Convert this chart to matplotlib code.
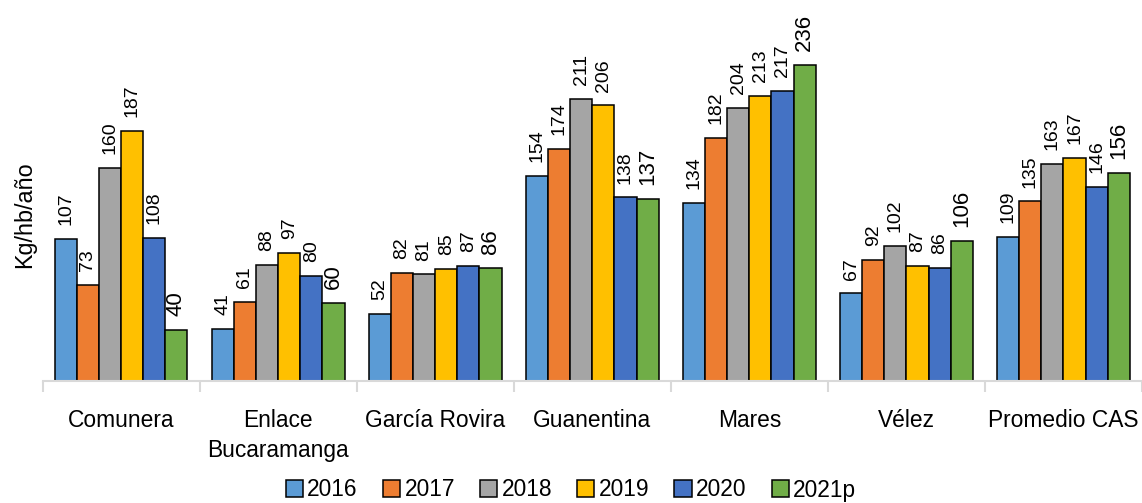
import matplotlib
matplotlib.use('Agg')
import matplotlib.pyplot as plt
from matplotlib import font_manager
import numpy as np

regions = ['Comunera', 'Enlace\nBucaramanga', 'García Rovira', 'Guanentina',
           'Mares', 'Vélez', 'Promedio CAS']
years = ['2016', '2017', '2018', '2019', '2020', '2021p']

v2016 = [107, 41, 52, 154, 134, 67, 109]
v2017 = [73, 61, 82, 174, 182, 92, 135]
v2018 = [160, 88, 81, 211, 204, 102, 163]
v2019 = [187, 97, 85, 206, 213, 87, 167]
v2020 = [108, 80, 87, 138, 217, 86, 146]
v2021 = [40, 60, 86, 137, 236, 106, 156]
series = [v2016, v2017, v2018, v2019, v2020, v2021]

colors = ['#5B9BD5', '#ED7D31', '#A5A5A5', '#FFC000', '#4472C4', '#70AD47']

# narrow font if it exists, otherwise shrink sizes a bit
names = {f.name for f in font_manager.fontManager.ttflist}
if 'Liberation Sans Narrow' in names:
    plt.rcParams['font.family'] = ['Liberation Sans Narrow', 'DejaVu Sans']
    k = 1.0
    lab_fs, lab_fs_big = 16, 18
else:
    plt.rcParams['font.family'] = ['Liberation Sans', 'DejaVu Sans']
    k = 0.84
    lab_fs, lab_fs_big = 14, 16

W, H = 1142, 503
fig = plt.figure(figsize=(W / 100, H / 100), dpi=100)
ax = fig.add_axes([42.5 / W, 122 / H, (W - 42.5) / W, 381 / H])

x = np.arange(len(regions))
bw = 0.141
for i, (vals, yr, c) in enumerate(zip(series, years, colors)):
    pos = x + (i - 2.5) * bw
    ax.bar(pos, vals, bw, color=c, edgecolor='black', linewidth=1.1,
           label=yr, zorder=2)
    fs = lab_fs_big if yr == '2021p' else lab_fs
    for p, v in zip(pos, vals):
        ax.annotate(str(v), (p, v), xytext=(0, 10), textcoords='offset points',
                    rotation=90, ha='center', va='bottom', fontsize=fs)

ax.set_xlim(-0.5, len(regions) - 0.5)
ax.set_ylim(2.2, 284)
for s in ['top', 'right', 'left']:
    ax.spines[s].set_visible(False)
ax.spines['bottom'].set_color('#D9D9D9')
ax.spines['bottom'].set_linewidth(1.5)
ax.spines['bottom'].set_zorder(3)
ax.set_yticks([])

ax.set_xticks(x)
ax.set_xticklabels(regions, fontsize=19.5 * k, linespacing=1.4)
ax.tick_params(axis='x', which='major', length=0, pad=20)
ax.set_xticks(np.arange(len(regions) + 1) - 0.5, minor=True)
ax.tick_params(axis='x', which='minor', length=8, color='#D9D9D9', width=1.5)

fig.text(25 / W, 1 - 215 / H, 'Kg/hb/año', rotation=90, ha='center',
         va='center', fontsize=20 * k)

fig.legend(loc='center', bbox_to_anchor=(0.5, 1 - 490 / H), ncol=6,
           frameon=False, fontsize=19.5 * k, handlelength=0.75,
           handleheight=0.75, handletextpad=0.2, columnspacing=1.1,
           borderaxespad=0)

fig.savefig('out.png', dpi=100)
